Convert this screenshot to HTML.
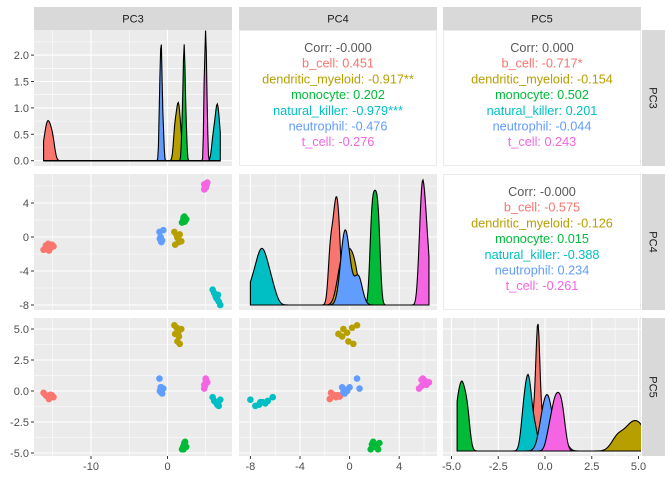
<!DOCTYPE html>
<html><head><meta charset="utf-8"><style>
body{margin:0;background:#fff;}
svg{display:block;font-family:"Liberation Sans",sans-serif;}
</style></head><body>
<svg id="c" width="672" height="480" viewBox="0 0 672 480"></svg>
<script>
const groups=["b_cell","dendritic_myeloid","monocyte","natural_killer","neutrophil","t_cell"];
const colors=["#F8766D","#B79F00","#00BA38","#00BFC4","#619CFF","#F564E3"];
const pc3=[[-16.2,-15.9,-15.6,-15.3,-15.1,-14.9,-15.5,-15.8],[0.9,1.2,1.4,1.5,1.3,1.6,1.8,1.0],[1.9,2.05,2.15,2.2,2.3,2.45,2.1,2.25],[5.9,6.1,6.3,6.5,6.7,6.9,6.4,6.6],[-1.05,-0.9,-0.8,-0.85,-0.7,-1.0,-0.55,-0.8],[4.8,4.9,5.0,5.1,5.0,4.8,5.2,5.0]];
const pc4=[[-1.5,-1.0,-0.8,-1.3,-0.9,-1.1,-1.6,-1.2],[0.6,0.2,-0.2,-0.6,-0.1,0.3,-0.5,-0.9],[1.7,2.0,2.2,2.4,1.9,2.1,2.3,1.8],[-6.2,-6.6,-7.0,-7.3,-7.6,-8.0,-7.2,-6.8],[0.6,0,-0.3,-0.5,-0.4,-0.2,0.8,-0.6],[5.6,5.8,6.0,6.1,5.9,6.2,6.4,5.8]];
const pc5=[[-0.15,-0.35,-0.45,-0.3,-0.35,-0.5,-0.65,-0.4],[5.3,5.1,4.7,4.4,4.0,3.8,5.0,4.6],[-4.7,-4.5,-4.4,-4.2,-4.1,-4.5,-4.7,-4.3],[-0.5,-0.8,-0.9,-1.1,-1.2,-0.7,-0.9,-1.0],[1.0,0.3,0.1,-0.1,-0.2,0.0,0.2,0.3],[0.2,0.4,0.6,0.8,1.0,0.5,0.7,0.9]];
const vars=[pc3,pc4,pc5];
const varNames=["PC3","PC4","PC5"];
const corr12=["Corr: -0.000","b_cell: 0.451","dendritic_myeloid: -0.917**","monocyte: 0.202","natural_killer: -0.979***","neutrophil: -0.476","t_cell: -0.276"];
const corr13=["Corr: 0.000","b_cell: -0.717*","dendritic_myeloid: -0.154","monocyte: 0.502","natural_killer: 0.201","neutrophil: -0.044","t_cell: 0.243"];
const corr23=["Corr: -0.000","b_cell: -0.575","dendritic_myeloid: -0.126","monocyte: 0.015","natural_killer: -0.388","neutrophil: 0.234","t_cell: -0.261"];
const xTicks=[[-10,0],[-8,-4,0,4],[-5,-2.5,0,2.5,5]];
const xTickLabels=[["-10","0"],["-8","-4","0","4"],["-5.0","-2.5","0.0","2.5","5.0"]];
const xMinor=[[-15,-5,5],[-6,-2,2,6],[-3.75,-1.25,1.25,3.75]];
const yTicks=[[0,0.5,1,1.5,2],[4,0,-4,-8],[5,2.5,0,-2.5,-5]];
const yTickLabels=[["0.0","0.5","1.0","1.5","2.0"],["4","0","-4","-8"],["5.0","2.5","0.0","-2.5","-5.0"]];
const yMinor=[[0.25,0.75,1.25,1.75,2.25],[6,2,-2,-6],[3.75,1.25,-1.25,-3.75]];

const svg=document.getElementById('c');
const NS="http://www.w3.org/2000/svg";
function mk(t,a,p){const e=document.createElementNS(NS,t);for(const k in a)e.setAttribute(k,a[k]);(p||svg).appendChild(e);return e;}
const colX=[[34,232],[239,437],[443,641]];
const rowY=[[30,166],[174,310],[318,456]];
const xs=[v=>167.5+v*7.65, v=>349.6+v*12.4, v=>545+v*18.7];
const ys=[null, v=>237-v*8.5, v=>391-v*12.4];
const yDens1=v=>160.7-v*52.8;

function kde(vals,x){const n=vals.length;const m=vals.reduce((a,b)=>a+b)/n;let s=Math.sqrt(vals.reduce((a,b)=>a+(b-m)*(b-m),0)/(n-1));const bw=0.9*s*Math.pow(n,-0.2);let d=0;for(const v of vals){const z=(x-v)/bw;d+=Math.exp(-z*z/2);}return d/(n*bw*Math.sqrt(2*Math.PI));}

for(let r=0;r<3;r++){for(let c=0;c<3;c++){
  const [x0,x1]=colX[c],[y0,y1]=rowY[r];
  const g=mk('g',{});
  
  
  if(c>r){
    mk('rect',{x:x0+0.5,y:y0+0.5,width:x1-x0-1,height:y1-y0-1,fill:'#fff',stroke:'#EBEBEB'},g);
    const lines=(r==0&&c==1)?corr12:(r==0?corr13:corr23);
    const cx=(x0+x1)/2;const startY=y0+18;
    lines.forEach((t,i)=>{const e=mk('text',{x:cx,y:startY+i*15.7+4,'text-anchor':'middle','font-size':'12.7',fill:i==0?'#595959':colors[i-1]},g);e.textContent=t;
      
      });
    continue;
  }
  mk('rect',{x:x0,y:y0,width:x1-x0,height:y1-y0,fill:'#EBEBEB'},g);
  const cp=mk('clipPath',{id:'cp'+r+c},g);mk('rect',{x:x0,y:y0,width:x1-x0,height:y1-y0},cp);
  xMinor[c].forEach(v=>{const X=xs[c](v);if(X>x0&&X<x1)mk('line',{x1:X,x2:X,y1:y0,y2:y1,stroke:'#fff','stroke-width':0.55},g);});
  xTicks[c].forEach(v=>{const X=xs[c](v);mk('line',{x1:X,x2:X,y1:y0,y2:y1,stroke:'#fff','stroke-width':1.1},g);});
  const yf=r==0?yDens1:ys[r];
  yMinor[r].forEach(v=>{const Y=yf(v);if(Y>y0&&Y<y1)mk('line',{x1:x0,x2:x1,y1:Y,y2:Y,stroke:'#fff','stroke-width':0.55},g);});
  yTicks[r].forEach(v=>{const Y=yf(v);mk('line',{x1:x0,x2:x1,y1:Y,y2:Y,stroke:'#fff','stroke-width':1.1},g);});
  const pg=mk('g',{'clip-path':'url(#cp'+r+c+')'},g);
  if(r==c){
    const all=vars[c].flat();const mn=Math.min(...all),mx=Math.max(...all);
    const N=240;const dens=groups.map((_,gi)=>{const a=[];for(let k=0;k<=N;k++){const xv=mn+(mx-mn)*k/N;a.push([xv,kde(vars[c][gi],xv)]);}return a;});
    let yMap;
    if(r==0)yMap=yDens1;else{const base=y1-5,top=y0+6;const dmax=Math.max(...dens.flat().map(p=>p[1]));yMap=d=>base-(base-top)*d/dmax;}
    dens.forEach((a,gi)=>{let p='M'+xs[c](a[0][0])+','+yMap(0);a.forEach(q=>p+='L'+xs[c](q[0]).toFixed(2)+','+yMap(q[1]).toFixed(2));p+='L'+xs[c](a[a.length-1][0])+','+yMap(0)+'Z';
      const e=mk('path',{d:p,fill:colors[gi],stroke:'#000','stroke-width':1.1},pg);
      
      });
  } else {
    groups.forEach((gn,gi)=>{vars[c][gi].forEach((v,k)=>{const e=mk('circle',{cx:xs[c](v),cy:ys[r](vars[r][gi][k]),r:3.3,fill:colors[gi]},pg);
      
      });});
  }
  if(c==0){yTicks[r].forEach((v,i)=>{const Y=yf(v);mk('line',{x1:x0-3,x2:x0,y1:Y,y2:Y,stroke:'#333','stroke-width':1},svg);
    const e=mk('text',{x:x0-5,y:Y+4,'text-anchor':'end','font-size':'11',fill:'#4D4D4D'});e.textContent=yTickLabels[r][i];
    
    });}
  if(r==2){xTicks[c].forEach((v,i)=>{const X=xs[c](v);mk('line',{x1:X,x2:X,y1:y1,y2:y1+3,stroke:'#333','stroke-width':1});
    const e=mk('text',{x:X,y:y1+14,'text-anchor':'middle','font-size':'11',fill:'#4D4D4D'});e.textContent=xTickLabels[c][i];
    
    });}
}}
for(let c=0;c<3;c++){const [x0,x1]=colX[c];mk('rect',{x:x0,y:7,width:x1-x0,height:23,fill:'#D9D9D9'});
  const e=mk('text',{x:(x0+x1)/2,y:22.5,'text-anchor':'middle','font-size':'11',fill:'#1A1A1A'});e.textContent=varNames[c];
  
  }
for(let r=0;r<3;r++){const [y0,y1]=rowY[r];mk('rect',{x:642,y:y0,width:23,height:y1-y0,fill:'#D9D9D9'});
  const cy=(y0+y1)/2;const e=mk('text',{x:653.5,y:cy,'text-anchor':'middle','font-size':'11',fill:'#1A1A1A',transform:'rotate(90 653.5 '+cy+')',dy:'4'});e.textContent=varNames[r];
  
  }
</script>
</body></html>
